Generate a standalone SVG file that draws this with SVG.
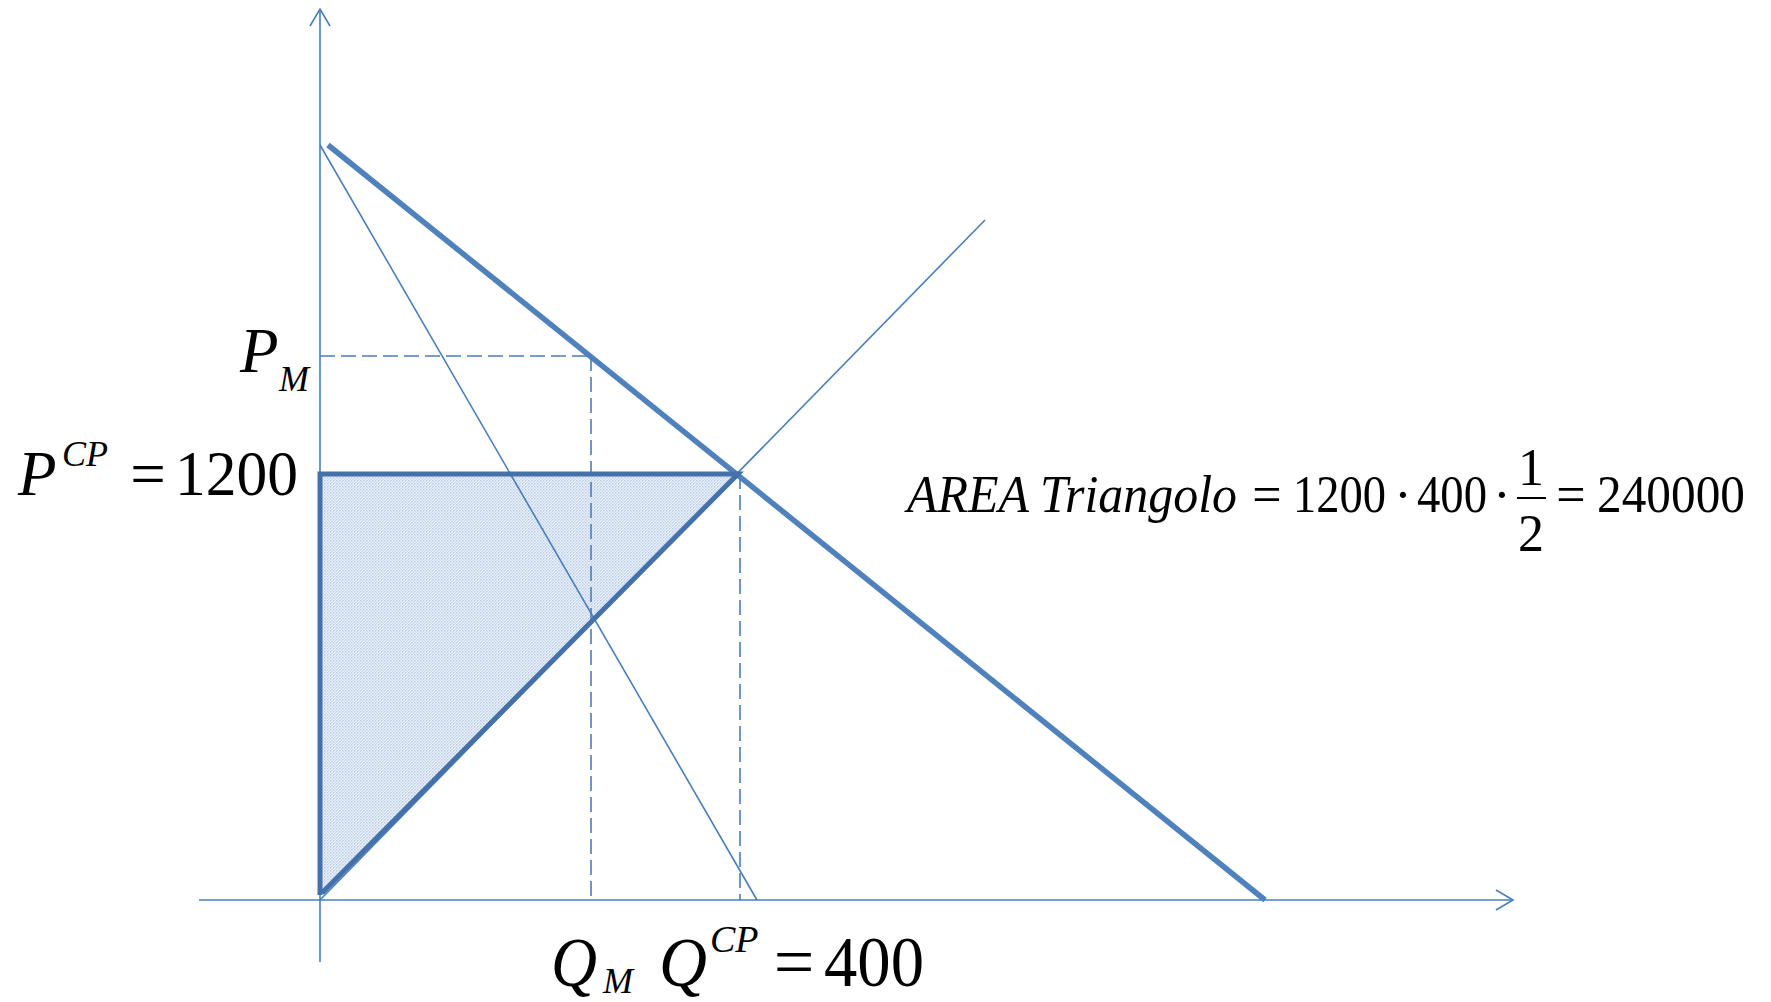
<svg xmlns="http://www.w3.org/2000/svg" width="1771" height="1002" viewBox="0 0 1771 1002">
<style>
.thin{stroke:#4a7ebb;stroke-width:1.6;fill:none}
.thick{stroke:#4f81bd;stroke-width:5.5;fill:none;stroke-linecap:butt}
.tri{stroke:#4571ab;stroke-width:5;fill:none;stroke-linejoin:miter}
.dash{stroke:#4a7ebb;stroke-width:1.6;fill:none;stroke-dasharray:15 6}
.t{font-family:"Liberation Serif","Times New Roman",serif;fill:#000}
.i{font-style:italic}
</style>
<defs>
<pattern id="dots" width="3" height="3" patternUnits="userSpaceOnUse">
<rect width="3" height="3" fill="#eef3fa"/>
<rect width="1.5" height="1.5" fill="#b8cbe6"/>
<rect x="1.5" y="1.5" width="1.5" height="1.5" fill="#c9d8ed"/>
</pattern>
</defs>
<rect width="1771" height="1002" fill="#fff"/>
<g id="area-fill">
<polygon points="320,474 738,474 320,896" fill="url(#dots)"/>
</g>
<g id="connectors">
<line id="y-axis" class="thin" x1="320" y1="9" x2="320" y2="962"/>
<polyline class="thin" points="310,26 320,9 330,26"/>
<line id="x-axis" class="thin" x1="199" y1="900" x2="1513" y2="900"/>
<polyline class="thin" points="1496,890 1513,900 1496,910"/>
<line id="mr" class="thin" x1="320" y1="145" x2="757" y2="900"/>
<line id="supply" class="thin" x1="320" y1="900" x2="985" y2="220"/>
<line id="demand" class="thick" x1="328" y1="145" x2="1265" y2="900"/>
<line id="pm-dash" class="dash" x1="320" y1="356" x2="591" y2="356"/>
<line id="qm-dash" class="dash" x1="591" y1="356" x2="591" y2="900"/>
<line id="qcp-dash" class="dash" x1="740" y1="474" x2="740" y2="900"/>
<polyline id="triangle" class="tri" points="320,895 320,474 738,474 322,893"/>
</g>
<g id="label-pm">
<text class="t i" x="240" y="372" font-size="63">P</text>
<text class="t i" x="279" y="391" font-size="36">M</text>
</g>
<g id="label-pcp">
<text class="t i" x="18" y="495" font-size="63">P</text>
<text class="t i" x="62" y="466" font-size="36">CP</text>
<text class="t" x="148" y="495" font-size="63" text-anchor="middle">=</text>
<text class="t" x="175" y="495" font-size="63" textLength="123" lengthAdjust="spacingAndGlyphs">1200</text>
</g>
<g id="label-q">
<text class="t i" x="551" y="986" font-size="70" textLength="46" lengthAdjust="spacingAndGlyphs">Q</text>
<text class="t i" x="603" y="993" font-size="36">M</text>
<text class="t i" x="659" y="986" font-size="70" textLength="48" lengthAdjust="spacingAndGlyphs">Q</text>
<text class="t i" x="710" y="952" font-size="38">CP</text>
<text class="t" x="794" y="986" font-size="72" text-anchor="middle">=</text>
<text class="t" x="824" y="986" font-size="72" textLength="100" lengthAdjust="spacingAndGlyphs">400</text>
</g>
<g id="label-area">
<text class="t i" x="907" y="512" font-size="52" textLength="122" lengthAdjust="spacingAndGlyphs">AREA</text>
<text class="t i" x="1040" y="512" font-size="52" textLength="197" lengthAdjust="spacingAndGlyphs">Triangolo</text>
<text class="t" x="1267" y="512" font-size="52" text-anchor="middle">=</text>
<text class="t" x="1293" y="512" font-size="52" textLength="93" lengthAdjust="spacingAndGlyphs">1200</text>
<text class="t" x="1403" y="512" font-size="52" text-anchor="middle">·</text>
<text class="t" x="1417" y="512" font-size="52" textLength="70" lengthAdjust="spacingAndGlyphs">400</text>
<text class="t" x="1502" y="512" font-size="52" text-anchor="middle">·</text>
<text class="t" x="1531" y="485" font-size="52" text-anchor="middle">1</text>
<line x1="1517" y1="498" x2="1546" y2="498" stroke="#000" stroke-width="2"/>
<text class="t" x="1531" y="551" font-size="52" text-anchor="middle">2</text>
<text class="t" x="1571" y="512" font-size="52" text-anchor="middle">=</text>
<text class="t" x="1597" y="512" font-size="52" textLength="148" lengthAdjust="spacingAndGlyphs">240000</text>
</g>
</svg>
